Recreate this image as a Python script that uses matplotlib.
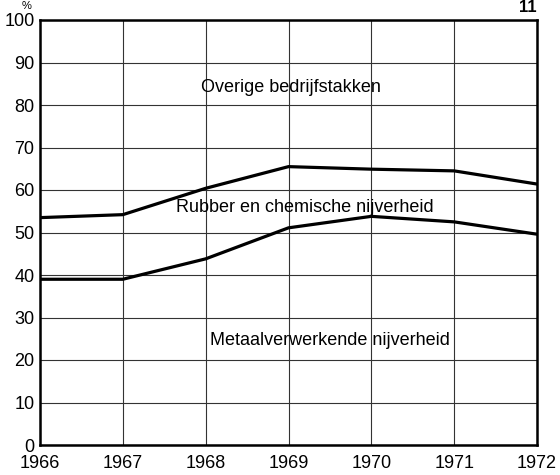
import matplotlib
matplotlib.use("Agg")
import matplotlib.pyplot as plt

plt.rcParams['font.family'] = ['Liberation Sans', 'DejaVu Sans']

years = [1966, 1967, 1968, 1969, 1970, 1971, 1972]
upper = [53.5, 54.2, 60.4, 65.5, 64.9, 64.5, 61.4]
lower = [39.0, 39.0, 43.8, 51.1, 53.8, 52.5, 49.6]
yticks = [0, 10, 20, 30, 40, 50, 60, 70, 80, 90, 100]
labels = ["Overige bedrijfstakken", "Rubber en chemische nijverheid", "Metaalverwerkende nijverheid"]
label_pos = [(1969.03, 84.0), (1969.2, 56.0), (1969.5, 24.7)]

fig = plt.figure(figsize=(5.6, 4.75), dpi=100)
ax = fig.add_axes([40/560, 30/475, 497/560, 425/475])
ax.set_xlim(1966, 1972)
ax.set_ylim(0, 100)
ax.set_xticks(years)
ax.set_yticks(yticks)
ax.grid(True, color='#333333', linewidth=0.8)
ax.set_axisbelow(True)
for s in ax.spines.values():
    s.set_linewidth(1.8)
    s.set_color('black')
ax.tick_params(length=0, labelsize=13, pad=4)
ax.tick_params(axis='x', pad=7)

ax.plot(years, upper, color='black', linewidth=2.3, solid_joinstyle='miter')
ax.plot(years, lower, color='black', linewidth=2.3, solid_joinstyle='miter')

for t, (x, y) in zip(labels, label_pos):
    ax.text(x, y, t, ha='center', va='center', fontsize=13)

fig.text(22/560, 1 - 6/475, "%", fontsize=8, ha='left', va='center')
fig.text(537/560, 1 - 7/475, "11", fontsize=12, fontweight='bold', ha='right', va='center')

fig.savefig("out.png", dpi=100)
